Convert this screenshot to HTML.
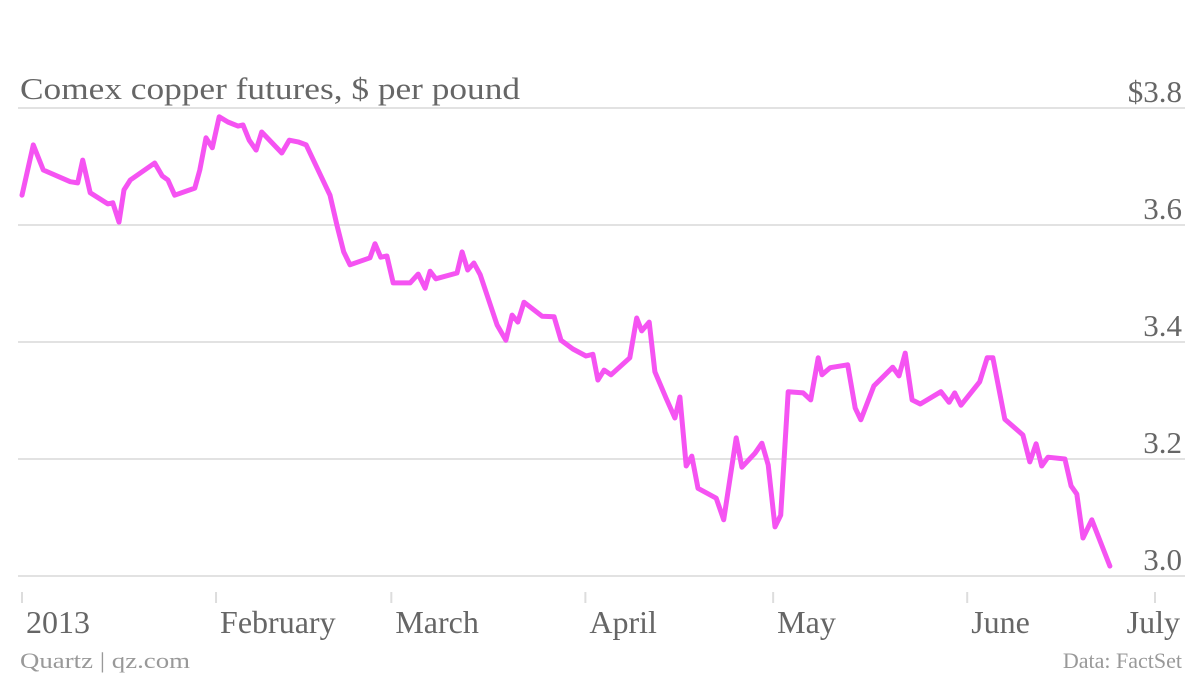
<!DOCTYPE html>
<html><head><meta charset="utf-8"><style>
html,body{margin:0;padding:0;background:#fff;}
svg{display:block;font-family:"Liberation Serif",serif;}
</style></head><body>
<svg id="chart" width="1200" height="676" viewBox="0 0 1200 676">
<text x="20" y="99" font-size="31" fill="#666" textLength="500" lengthAdjust="spacingAndGlyphs">Comex copper futures, $ per pound</text>
<g id="grid"></g><g id="xaxis"></g><path id="line" fill="none" stroke="#f553f2" stroke-width="5" stroke-linejoin="round" stroke-linecap="round"/>
<text x="20" y="668" font-size="22" fill="#999" textLength="170" lengthAdjust="spacingAndGlyphs">Quartz | qz.com</text>
<text x="1182" y="668" font-size="22" fill="#999" text-anchor="end">Data: FactSet</text>
</svg>
<script>
const days=[0,1.8,3.4,7.7,8.9,9.7,10.9,13.7,14.5,15.5,16.3,17.3,21.2,22.4,23.3,24.4,27.6,28.4,29.4,30.4,31.5,32.9,34.5,35.3,36.3,37.4,38.3,41.5,42.7,44.1,45.4,49.2,50.3,51.4,52.4,55.6,56.4,57.3,58.3,59.3,62.0,63.3,64.4,65.2,66.1,69.5,70.3,71.2,72.2,73.2,75.9,77.3,78.3,79.2,80.2,83.1,85.0,86.1,88.0,90.1,91.2,92.0,93.0,94.1,97.1,98.2,99.0,100.2,101.1,102.9,104.3,105.1,106.1,107.0,108.0,110.9,112.1,114.1,115.0,117.1,118.2,119.2,120.3,121.2,122.4,124.8,126.0,127.2,127.8,129.1,131.9,133.1,134.0,136.1,139.1,140.1,141.1,142.2,143.5,146.8,148.1,149.0,150.0,153.0,154.2,155.1,157.0,159.9,161.0,162.0,162.9,163.9,166.6,167.6,168.5,169.5,170.9,173.8];
const prices=[3.651,3.737,3.694,3.674,3.672,3.711,3.655,3.636,3.638,3.605,3.660,3.677,3.706,3.684,3.677,3.651,3.663,3.694,3.749,3.732,3.785,3.776,3.769,3.771,3.745,3.728,3.759,3.723,3.745,3.742,3.737,3.651,3.600,3.554,3.532,3.544,3.568,3.545,3.547,3.501,3.501,3.516,3.492,3.521,3.508,3.518,3.554,3.523,3.535,3.515,3.429,3.403,3.446,3.434,3.468,3.444,3.443,3.403,3.388,3.376,3.379,3.335,3.352,3.344,3.373,3.441,3.419,3.434,3.349,3.304,3.270,3.306,3.188,3.205,3.150,3.133,3.096,3.236,3.186,3.210,3.227,3.190,3.084,3.104,3.315,3.313,3.301,3.373,3.344,3.356,3.361,3.287,3.267,3.325,3.357,3.342,3.381,3.301,3.294,3.315,3.297,3.313,3.292,3.332,3.373,3.373,3.268,3.241,3.195,3.226,3.188,3.203,3.200,3.154,3.140,3.065,3.096,3.017];
const yTicks=[3.8,3.6,3.4,3.2,3.0];
const yTickLabels=["$3.8","3.6","3.4","3.2","3.0"];
const xTickDays=[0,31,59,90,120,151,181];
const xTickLabels=["2013","February","March","April","May","June","July"];
const X=d=>22+d*(1155-22)/181;
const Y=v=>576-(v-3.0)*585;
const NS="http://www.w3.org/2000/svg";
const grid=document.getElementById('grid'),xa=document.getElementById('xaxis');
yTicks.forEach((t,i)=>{
  const l=document.createElementNS(NS,'line');
  
  
  l.setAttribute('x1',18);l.setAttribute('x2',1185);l.setAttribute('y1',Y(t));l.setAttribute('y2',Y(t));
  l.setAttribute('stroke','#e2e2e2');l.setAttribute('stroke-width','2');grid.appendChild(l);
  const tx=document.createElementNS(NS,'text');
  
  
  tx.setAttribute('x',1182);tx.setAttribute('y',Y(t)-6);tx.setAttribute('text-anchor','end');
  tx.setAttribute('font-size','31');tx.setAttribute('fill','#666');tx.textContent=yTickLabels[i];grid.appendChild(tx);
});
xTickDays.forEach((d,i)=>{
  const x=X(d);
  const l=document.createElementNS(NS,'line');
  
  
  l.setAttribute('x1',x);l.setAttribute('x2',x);l.setAttribute('y1',592);l.setAttribute('y2',603);
  l.setAttribute('stroke','#ddd');l.setAttribute('stroke-width','2');xa.appendChild(l);
  const tx=document.createElementNS(NS,'text');
  
  
  const last=i===xTickDays.length-1;
  tx.setAttribute('x',last?1180:x+4);tx.setAttribute('y',633);
  if(last)tx.setAttribute('text-anchor','end');
  tx.setAttribute('font-size','32');tx.setAttribute('fill','#666');tx.textContent=xTickLabels[i];xa.appendChild(tx);
});
document.getElementById('line').setAttribute('d',days.map((d,i)=>(i?'L':'M')+X(d).toFixed(1)+','+Y(prices[i]).toFixed(1)).join(''));
</script>
</body></html>
